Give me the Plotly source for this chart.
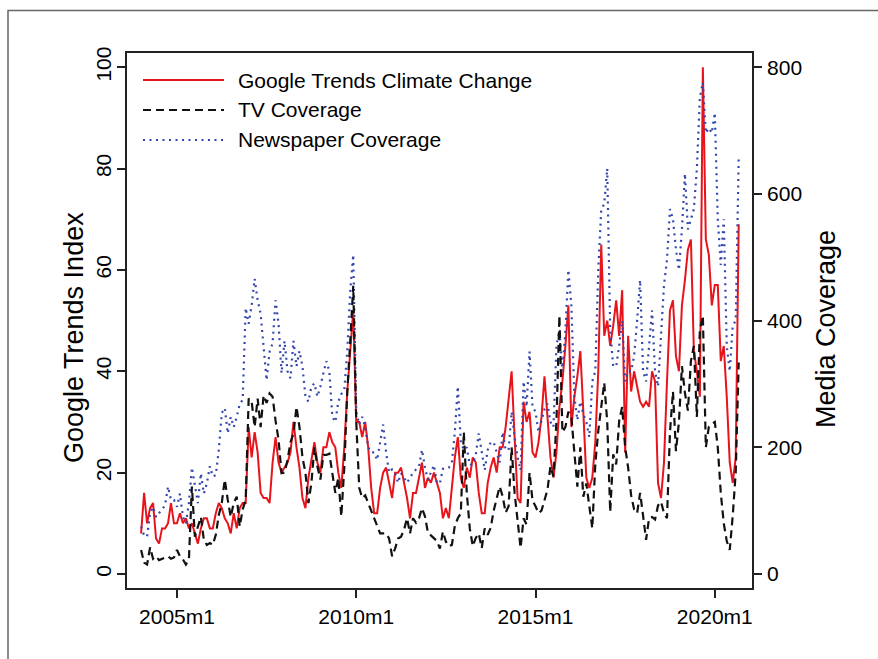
import plotly.graph_objects as go

# ---------------- data (monthly, 2004m1 .. 2020m9) ----------------
start_year = 2004
n_months = 201

google_trends = [
    8, 16, 10, 13, 14, 7, 6, 9, 9, 10, 14, 10,          # 2004
    10, 12, 10, 11, 9, 10, 8, 6, 9, 11, 11, 9,          # 2005
    9, 12, 14, 13, 11, 10, 8, 12, 9, 13, 14, 14,        # 2006
    29, 23, 28, 24, 16, 15, 15, 14, 22, 27, 22, 20,     # 2007
    21, 22, 24, 30, 25, 21, 15, 13, 19, 23, 26, 22,     # 2008
    20, 25, 25, 28, 26, 25, 20, 17, 25, 36, 45, 52,     # 2009
    30, 30, 27, 30, 25, 17, 12, 12, 17, 20, 21, 18,     # 2010
    15, 20, 20, 21, 18, 15, 11, 16, 16, 19, 22, 17,     # 2011
    19, 18, 20, 18, 16, 11, 13, 11, 17, 23, 27, 19,     # 2012
    17, 21, 19, 23, 22, 16, 12, 12, 18, 21, 23, 20,     # 2013
    25, 25, 29, 35, 40, 27, 15, 14, 34, 30, 32, 24,     # 2014
    23, 26, 31, 39, 31, 23, 19, 24, 33, 38, 45, 53,     # 2015
    29, 35, 39, 44, 32, 19, 17, 19, 26, 40, 65, 47,     # 2016
    50, 45, 49, 54, 47, 56, 24, 47, 36, 40, 37, 34,     # 2017
    33, 34, 33, 40, 38, 18, 15, 22, 38, 52, 54, 43,     # 2018
    40, 53, 58, 64, 66, 44, 40, 35, 100, 66, 63, 53,    # 2019
    57, 57, 42, 45, 35, 22, 18, 23, 69,                 # 2020
]

tv_coverage = [
    38, 18, 15, 42, 24, 28, 22, 24, 26, 28, 24, 26,
    38, 28, 23, 15, 23, 138, 59, 75, 90, 54, 46, 49,
    46, 62, 93, 112, 149, 117, 90, 112, 122, 75, 102, 117,
    277, 272, 232, 277, 232, 282, 270, 285, 280, 242, 212, 159,
    160, 180, 208, 222, 264, 232, 184, 160, 112, 144, 200, 170,
    149, 188, 188, 190, 159, 128, 152, 91, 168, 288, 368, 455,
    240, 136, 120, 124, 112, 100, 88, 76, 64, 64, 64, 56,
    28, 40, 56, 59, 70, 88, 64, 88, 81, 88, 104, 91,
    65, 61, 56, 52, 40, 67, 51, 44, 46, 76, 88, 96,
    224, 128, 72, 44, 57, 64, 41, 72, 62, 73, 100, 118,
    138, 123, 97, 107, 200, 128, 83, 41, 88, 78, 160, 116,
    107, 96, 100, 116, 133, 170, 154, 240, 408, 224, 232, 256,
    248, 192, 138, 200, 122, 143, 106, 72, 173, 226, 264, 302,
    240, 98, 189, 173, 242, 264, 200, 168, 124, 102, 96, 128,
    92, 54, 88, 90, 86, 108, 114, 96, 88, 224, 288, 194,
    240, 328, 286, 258, 336, 360, 248, 384, 408, 200, 232, 237,
    240, 200, 128, 80, 52, 38, 92, 160, 334,
]

newspaper_coverage = [
    75, 61, 59, 96, 106, 90, 96, 102, 108, 138, 117, 117,
    106, 127, 90, 80, 112, 168, 143, 112, 159, 127, 143, 170,
    154, 156, 196, 254, 262, 222, 248, 232, 248, 268, 275, 420,
    395, 424, 466, 432, 411, 364, 306, 351, 364, 432, 395, 317,
    368, 320, 309, 368, 328, 352, 328, 280, 272, 296, 301, 280,
    296, 317, 336, 320, 248, 240, 272, 284, 290, 352, 448, 504,
    256, 236, 248, 232, 200, 192, 192, 180, 212, 236, 192, 160,
    165, 159, 144, 159, 152, 144, 152, 160, 165, 170, 196, 168,
    149, 162, 172, 144, 143, 166, 166, 168, 176, 224, 296, 208,
    196, 200, 172, 174, 188, 222, 192, 164, 196, 208, 208, 192,
    176, 224, 196, 196, 256, 216, 184, 164, 304, 264, 351, 264,
    256, 224, 240, 260, 269, 240, 232, 360, 384, 320, 384, 480,
    424, 280, 243, 272, 252, 240, 216, 304, 320, 480, 576, 584,
    640, 384, 328, 328, 360, 400, 304, 320, 320, 344, 400, 464,
    320, 304, 360, 416, 320, 296, 376, 456, 496, 576, 560, 512,
    480, 544, 632, 544, 560, 576, 640, 752, 776, 696, 704, 696,
    728, 560, 488, 560, 360, 320, 392, 400, 656,
]

series_names = ["Google Trends Climate Change", "TV Coverage", "Newspaper Coverage"]
x_tick_labels = ["2005m1", "2010m1", "2015m1", "2020m1"]
x_tick_months = [12, 72, 132, 192]          # months since 2004m1
left_ticks = [0, 20, 40, 60, 80, 100]
right_ticks = [0, 200, 400, 600, 800]

months = list(range(n_months))              # month index since 2004m1

# ---------------- styling ----------------
FONT = "Liberation Sans, Arial, Helvetica, sans-serif"
RED = "#e8141b"
BLACK = "#111111"
BLUE = "#3346ad"
TV_DASH = "8px,5px"
NEWS_DOT = "2px,4.5px"

fig = go.Figure()

fig.add_trace(go.Scatter(
    x=months, y=newspaper_coverage, yaxis="y2", mode="lines",
    name=series_names[2], line=dict(color=BLUE, width=2.2, dash=NEWS_DOT),
    showlegend=False))
fig.add_trace(go.Scatter(
    x=months, y=tv_coverage, yaxis="y2", mode="lines",
    name=series_names[1], line=dict(color=BLACK, width=2.2, dash=TV_DASH),
    showlegend=False))
fig.add_trace(go.Scatter(
    x=months, y=google_trends, yaxis="y", mode="lines",
    name=series_names[0], line=dict(color=RED, width=2),
    showlegend=False))

# plot area in pixels: x 127..752, y 53..588
W, H = 878, 659
L, R, T, B = 127, 126, 53, 71
pw, ph = W - L - R, H - T - B


def px_x(x):
    return (x - L) / pw


def px_y(y):
    return (H - B - y) / ph


axis_font = dict(family=FONT, size=21, color="#000000")

fig.update_layout(
    width=W, height=H,
    margin=dict(l=L, r=R, t=T, b=B, pad=0),
    paper_bgcolor="white", plot_bgcolor="white",
    font=dict(family=FONT, color="#000000"),
    showlegend=False,
    xaxis=dict(
        range=[-4.72, 204.45], tickmode="array", tickvals=x_tick_months,
        ticktext=x_tick_labels, ticks="outside", ticklen=8, tickwidth=1.5,
        tickcolor="#222", showline=True, linecolor="#222", linewidth=1.8,
        mirror=True, showgrid=False, zeroline=False, tickfont=axis_font,
        ticklabelstandoff=1,
    ),
    yaxis=dict(
        range=[-2.76, 102.8], tickmode="array", tickvals=left_ticks,
        ticks="outside", ticklen=8, tickwidth=1.5, tickcolor="#222",
        showline=True, linecolor="#222", linewidth=1.8, showgrid=False,
        zeroline=False, tickfont=axis_font, tickangle=-90,
        ticklabelstandoff=-2,
    ),
    yaxis2=dict(
        range=[-22.08, 822.4], tickmode="array", tickvals=right_ticks,
        overlaying="y", side="right", ticks="outside", ticklen=8,
        tickwidth=1.5, tickcolor="#222", showline=True, linecolor="#222",
        linewidth=1.8, showgrid=False, zeroline=False, tickfont=axis_font,
        ticklabelstandoff=1,
    ),
)

# axis titles
fig.add_annotation(text="Google Trends Index", xref="paper", yref="paper",
                   x=px_x(74), y=px_y(338), textangle=-90, showarrow=False,
                   xanchor="center", yanchor="middle",
                   font=dict(family=FONT, size=27, color="#000000"))
fig.add_annotation(text="Media Coverage", xref="paper", yref="paper",
                   x=px_x(826), y=px_y(329), textangle=-90, showarrow=False,
                   xanchor="center", yanchor="middle",
                   font=dict(family=FONT, size=27, color="#000000"))

# manual legend (long line samples as in the reference)
legend_rows = [
    (series_names[0], RED, None, 2, 80),
    (series_names[1], BLACK, TV_DASH, 2.2, 110),
    (series_names[2], BLUE, NEWS_DOT, 2.2, 140),
]
for name, color, dash, width, ypx in legend_rows:
    line = dict(color=color, width=width)
    if dash:
        line["dash"] = dash
    fig.add_shape(type="line", xref="paper", yref="paper",
                  x0=px_x(143), x1=px_x(224), y0=px_y(ypx), y1=px_y(ypx),
                  line=line)
    fig.add_annotation(text=name, xref="paper", yref="paper",
                       x=px_x(236), y=px_y(ypx), showarrow=False,
                       xanchor="left", yanchor="middle",
                       font=dict(family=FONT, size=21, color="#000000"))

# outer frame of the exported graph (only top/left edges visible)
fig.add_shape(type="rect", xref="paper", yref="paper",
              x0=px_x(8), x1=px_x(W + 20), y0=px_y(H + 20), y1=px_y(10.5),
              line=dict(color="#666666", width=1.5), layer="below")

fig.write_html("out.html")
